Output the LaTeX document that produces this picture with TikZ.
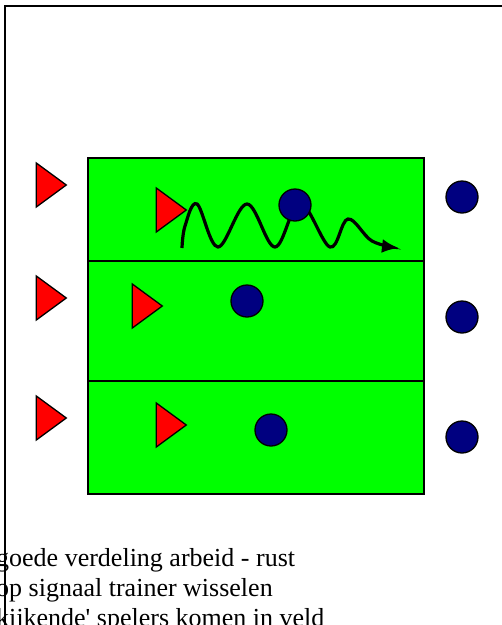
\documentclass[tikz,border=0pt]{standalone}
\usepackage{fontspec}
\setmainfont{Liberation Serif}
\usetikzlibrary{arrows.meta, shapes.geometric, positioning}

\begin{document}
\begin{tikzpicture}[x=1pt, y=-1pt, node distance = 120pt]
\tikzstyle{attacker}=[isosceles triangle, isosceles triangle stretches, shape border rotate=0, draw=black, fill=red, line width=1.3pt, inner sep=0pt, minimum height=30pt, minimum width=44pt, anchor=apex]
\tikzstyle{defender}=[circle, draw=black, fill=blue!50!black, line width=1.3pt, inner sep=0pt, minimum size=32pt]
\tikzstyle{lane}=[draw=black, line width=1.8pt]
\tikzstyle{wave}=[line width=3.2pt, -{Latex[length=17pt, width=14pt]}]
\tikzstyle{remark}=[anchor=base west, inner sep=0pt, font=\fontsize{26}{30}\selectfont]
%
\useasboundingbox (0,0) rectangle (502,625);
%
\node [remark] (line1) at (-4,566) {goede verdeling arbeid - rust};
\node [remark] (line2) at (-4,596) {op signaal trainer wisselen};
\node [remark] (line3) at (-4,626) {kijkende\textquotesingle{} spelers komen in veld};
%
\begin{scope}
% speelveld met drie banen
\node [lane, fill=green, minimum width=336pt, minimum height=336pt, inner sep=0pt, anchor=north west] (field) at (87,157) {};
\coordinate (split1w) at (87,261);
\coordinate (split1e) at (423,261);
\coordinate (split2w) at (87,381);
\coordinate (split2e) at (423,381);
\draw [lane] (split1w) -- (split1e);
\draw [lane] (split2w) -- (split2e);

% dribbel
\coordinate (start) at (182,248);
\coordinate (finish) at (399,248);
\draw [wave] plot [smooth, tension=0.6] coordinates {(start) (185,226) (197,204) (218,247) (247,204) (275,247) (300,203) (330,247) (348,219) (372,241) (finish)};

% wachtende aanvallers
\node [attacker] (a1) at (68,185) {};
\node [attacker] (a2) at (68,298) {};
\node [attacker] (a3) at (68,418) {};
% aanvallers in het veld
\node [attacker] (b1) at (188,210) {};
\node [attacker] (b2) at (164,306) {};
\node [attacker] (b3) at (188,425) {};

% verdedigers in het veld
\node [defender] (d1) at (295,205) {};
\node [defender] (d2) at (247,301) {};
\node [defender] (d3) at (271,430) {};
% wachtende verdedigers
\node [defender] (e1) at (462,197) {};
\node [defender] (e2) [below of=e1] {};
\node [defender] (e3) [below of=e2] {};
\end{scope}
%
\coordinate (frameTL) at (5,6);
\coordinate (frameTR) at (510,6);
\coordinate (frameBL) at (5,630);
\draw [line width=1.8pt] (frameBL) -- (frameTL) -- (frameTR);
\end{tikzpicture}
\end{document}
